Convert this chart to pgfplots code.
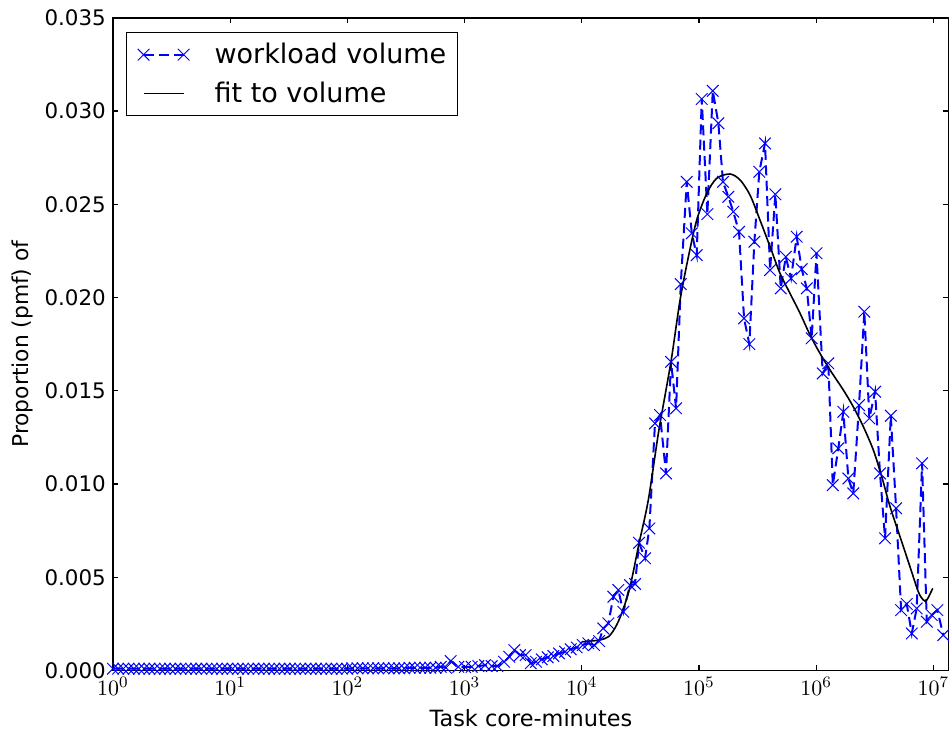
\documentclass[border=0pt]{standalone}
\usepackage{fontspec}
\setmainfont{DejaVu Sans}
\usepackage{pgfplots}
\pgfplotsset{compat=1.18}
\usepackage{pgfplotstable}

\pgfplotstableread{
lx y
0.000 0.00010
0.044 0.00010
0.089 0.00010
0.133 0.00010
0.178 0.00010
0.222 0.00010
0.266 0.00010
0.311 0.00010
0.355 0.00010
0.400 0.00010
0.444 0.00010
0.488 0.00010
0.533 0.00010
0.577 0.00010
0.622 0.00010
0.666 0.00010
0.710 0.00010
0.755 0.00010
0.799 0.00010
0.844 0.00010
0.888 0.00010
0.932 0.00010
0.977 0.00010
1.021 0.00010
1.066 0.00010
1.110 0.00010
1.154 0.00010
1.199 0.00010
1.243 0.00010
1.288 0.00010
1.332 0.00010
1.376 0.00010
1.421 0.00010
1.465 0.00010
1.510 0.00010
1.554 0.00010
1.598 0.00010
1.643 0.00010
1.687 0.00010
1.732 0.00010
1.776 0.00010
1.820 0.00010
1.865 0.00010
1.909 0.00010
1.954 0.00010
1.998 0.00010
2.042 0.00012
2.087 0.00012
2.131 0.00012
2.176 0.00012
2.220 0.00012
2.264 0.00012
2.309 0.00012
2.353 0.00012
2.398 0.00012
2.442 0.00012
2.486 0.00012
2.531 0.00015
2.575 0.00015
2.620 0.00015
2.664 0.00015
2.708 0.00015
2.753 0.00015
2.797 0.00020
2.842 0.00015
2.882 0.00051
2.947 0.00020
3.004 0.00019
3.061 0.00020
3.118 0.00024
3.175 0.00029
3.232 0.00024
3.280 0.00024
3.337 0.00047
3.382 0.00074
3.425 0.00110
3.474 0.00083
3.522 0.00083
3.565 0.00039
3.610 0.00047
3.659 0.00060
3.710 0.00071
3.758 0.00078
3.806 0.00092
3.858 0.00101
3.906 0.00114
3.957 0.00124
4.009 0.00137
4.056 0.00146
4.105 0.00137
4.148 0.00158
4.184 0.00226
4.227 0.00253
4.270 0.00396
4.312 0.00432
4.355 0.00315
4.412 0.00458
4.455 0.00464
4.489 0.00685
4.540 0.00602
4.577 0.00762
4.625 0.01325
4.668 0.01370
4.719 0.01057
4.762 0.01655
4.805 0.01406
4.845 0.02072
4.896 0.02620
4.939 0.02344
4.981 0.02227
5.024 0.03064
5.072 0.02447
5.118 0.03108
5.166 0.02934
5.205 0.02620
5.251 0.02540
5.293 0.02460
5.342 0.02352
5.385 0.01888
5.430 0.01750
5.473 0.02299
5.515 0.02674
5.564 0.02826
5.607 0.02147
5.652 0.02553
5.698 0.02049
5.741 0.02218
5.786 0.02103
5.834 0.02326
5.877 0.02152
5.920 0.02049
5.962 0.01781
6.003 0.02237
6.056 0.01593
6.104 0.01647
6.142 0.00994
6.189 0.01191
6.232 0.01387
6.275 0.01030
6.317 0.00950
6.366 0.01423
6.411 0.01924
6.454 0.01352
6.503 0.01495
6.545 0.01057
6.588 0.00709
6.637 0.01366
6.682 0.00870
6.725 0.00324
6.773 0.00357
6.816 0.00199
6.858 0.00333
6.904 0.01111
6.944 0.00262
6.986 0.00298
7.034 0.00324
7.085 0.00190
}\volume

\pgfplotstableread{
lx y
4.000 0.00154
4.071 0.00158
4.156 0.00164
4.227 0.00181
4.284 0.00228
4.341 0.00307
4.412 0.00449
4.489 0.00682
4.568 0.00914
4.654 0.01272
4.719 0.01504
4.768 0.01682
4.839 0.01986
4.910 0.02218
4.981 0.02415
5.067 0.02558
5.152 0.02639
5.265 0.02662
5.351 0.02630
5.436 0.02549
5.521 0.02415
5.607 0.02272
5.692 0.02129
5.777 0.02022
5.863 0.01915
5.948 0.01799
6.033 0.01700
6.119 0.01611
6.232 0.01504
6.317 0.01414
6.403 0.01307
6.488 0.01182
6.560 0.01039
6.631 0.00878
6.716 0.00717
6.801 0.00556
6.872 0.00422
6.915 0.00378
6.944 0.00378
6.995 0.00441
}\fitdata

\begin{document}
\begin{tikzpicture}
\useasboundingbox (-56.45pt,-33.75pt) rectangle (418pt,335.25pt);
\begin{axis}[
  at={(0,0)}, anchor=south west,
  scale only axis, width=418pt, height=326.4pt,
  xmode=log, xmin=1, xmax=1.36e7,
  ymin=0, ymax=0.035,
  xtick={1,10,100,1000,10000,100000,1000000,10000000},
  xminorticks=false,
  ytick={0,0.005,0.01,0.015,0.02,0.025,0.03,0.035},
  scaled y ticks=false,
  tick pos=both, tick align=inside,
  major tick length=2.8pt,
  tick style={line width=0.6pt, black},
  axis line style={line width=0.9pt},
  xticklabel style={font=\fontsize{10.8}{13}\selectfont},
  yticklabel style={font=\fontsize{10.7}{12.8}\selectfont,
    /pgf/number format/fixed, /pgf/number format/fixed zerofill,
    /pgf/number format/precision=3, /pgf/number format/assume math mode=true},
  xlabel={Task core-minutes},
  ylabel={Proportion (pmf) of},
  xlabel style={at={(axis description cs:0.5,-0.0735)}, anchor=center, font=\fontsize{11.2}{13.4}\selectfont},
  ylabel style={at={(axis description cs:-0.1087,0.5)}, anchor=center, font=\fontsize{10.9}{13}\selectfont},
  legend style={at={(axis description cs:0.01567,0.97855)}, anchor=north west,
    draw=black, line width=0.6pt, inner xsep=5.5pt, inner ysep=5.3pt,
    row sep=7.6pt, column sep=12.5pt,
    font=\fontsize{13.5}{16}\selectfont,
    nodes={inner sep=0pt},
    cells={anchor=west}},
  legend image code/.code={\path[draw=none,fill=none] (-3pt,-3pt) rectangle (23pt,3pt);
    \draw[#1] plot coordinates {(0pt,0pt) (20pt,0pt)};},
]
\addplot[color={rgb,255:red,0;green,0;blue,255}, line width=1pt, dash pattern=on 5pt off 2.7pt,
  mark=x, mark size=4.1pt, mark options={solid, line width=0.5pt}]
  table[x expr={pow(10,\thisrow{lx})}, y=y] {\volume};
\addlegendentry{workload volume}
\addplot[black, line width=0.8pt, no marks, smooth]
  table[x expr={pow(10,\thisrow{lx})}, y=y] {\fitdata};
\addlegendentry{fit to volume}
\end{axis}
\end{tikzpicture}
\end{document}
